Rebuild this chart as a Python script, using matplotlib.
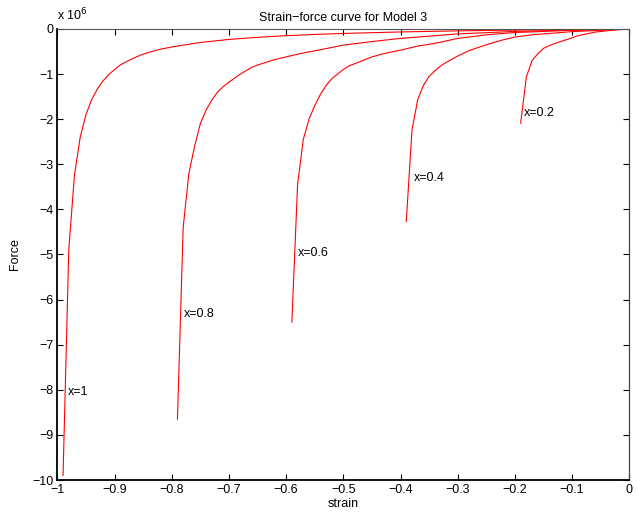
import matplotlib
matplotlib.use("Agg")
import matplotlib.pyplot as plt

# strain / force (force in units of 1e6)
strain_x1 = [0, -0.1, -0.2, -0.3, -0.4, -0.5, -0.55, -0.6, -0.65, -0.7, -0.75, -0.8, -0.82, -0.84,
             -0.85, -0.86, -0.87, -0.88, -0.89, -0.9, -0.91, -0.92, -0.93, -0.94, -0.95, -0.96,
             -0.97, -0.98, -0.99]
force_x1 = [0, -0.011, -0.025, -0.043, -0.067, -0.10, -0.122, -0.15, -0.186, -0.233, -0.30, -0.40,
            -0.45, -0.52, -0.56, -0.61, -0.67, -0.73, -0.80, -0.90, -1.01, -1.15, -1.33, -1.57,
            -1.90, -2.40, -3.23, -4.90, -9.90]

strain_x08 = [0, -0.1, -0.2, -0.3, -0.4, -0.45, -0.5, -0.54, -0.58, -0.62, -0.65, -0.66, -0.68,
              -0.70, -0.71, -0.72, -0.73, -0.74, -0.75, -0.76, -0.77, -0.78, -0.79]
force_x08 = [0, -0.025, -0.055, -0.11, -0.21, -0.28, -0.36, -0.46, -0.56, -0.68, -0.80, -0.85,
             -1.00, -1.18, -1.28, -1.40, -1.58, -1.80, -2.10, -2.60, -3.20, -4.40, -8.65]

strain_x06 = [0, -0.1, -0.2, -0.25, -0.3, -0.34, -0.37, -0.4, -0.43, -0.45, -0.47, -0.49, -0.50,
              -0.51, -0.52, -0.53, -0.54, -0.55, -0.56, -0.57, -0.58, -0.59]
force_x06 = [0, -0.03, -0.08, -0.13, -0.21, -0.32, -0.38, -0.47, -0.55, -0.62, -0.72, -0.82, -0.90,
             -1.00, -1.10, -1.25, -1.45, -1.70, -2.00, -2.45, -3.45, -6.50]

strain_x04 = [0, -0.05, -0.1, -0.17, -0.2, -0.22, -0.25, -0.28, -0.30, -0.32, -0.33, -0.34,
              -0.35, -0.36, -0.37, -0.38, -0.39]
force_x04 = [0, -0.03, -0.06, -0.13, -0.18, -0.24, -0.35, -0.48, -0.60, -0.74, -0.82, -0.93,
             -1.05, -1.25, -1.57, -2.24, -4.27]

strain_x02 = [0, -0.03, -0.06, -0.09, -0.11, -0.12, -0.13, -0.14, -0.15, -0.16, -0.17, -0.18, -0.19]
force_x02 = [0, -0.03, -0.07, -0.15, -0.24, -0.28, -0.32, -0.37, -0.43, -0.55, -0.70, -1.06, -2.09]

labels = ["x=1", "x=0.8", "x=0.6", "x=0.4", "x=0.2"]
label_pos = [(-0.981, -8.05), (-0.778, -6.33), (-0.579, -4.97), (-0.377, -3.30), (-0.184, -1.87)]

plt.rcParams['font.family'] = ['Liberation Sans', 'DejaVu Sans']
plt.rcParams['font.size'] = 9

fig = plt.figure(figsize=(6.37, 5.12), dpi=100)
ax = fig.add_axes([0.09, 0.0625, 0.898, 0.881])

curves = [(strain_x1, force_x1), (strain_x08, force_x08), (strain_x06, force_x06),
          (strain_x04, force_x04), (strain_x02, force_x02)]
for (s, f), lab, (tx, ty) in zip(curves, labels, label_pos):
    ax.plot(s, f, color='red', linewidth=0.8)
    ax.text(tx, ty, lab, ha='left', va='center', fontsize=9)

ax.set_xlim(-1, 0)
ax.set_ylim(-10, 0)
ax.set_xticks([-1, -0.9, -0.8, -0.7, -0.6, -0.5, -0.4, -0.3, -0.2, -0.1, 0])
ax.set_xticklabels(['\u22121', '\u22120.9', '\u22120.8', '\u22120.7', '\u22120.6', '\u22120.5',
                    '\u22120.4', '\u22120.3', '\u22120.2', '\u22120.1', '0'])
ax.set_yticks(range(-10, 1))
ax.set_yticklabels(['\u2212%d' % (-v) if v < 0 else '0' for v in range(-10, 1)])
ax.tick_params(direction='in', length=4, top=True, right=True, width=0.8, pad=3)
ax.spines['left'].set_linewidth(1.3)
ax.spines['bottom'].set_linewidth(1.3)
ax.spines['top'].set_linewidth(0.8)
ax.spines['right'].set_linewidth(0.9)
ax.spines['top'].set_color('#555555')
ax.spines['right'].set_color('#444444')

ax.set_title('Strain\u2212force curve for Model 3', fontsize=9, pad=6)
ax.set_xlabel('strain', labelpad=1)
ax.set_ylabel('Force', labelpad=8)
ax.text(0, 1.012, 'x 10$^{6}$', transform=ax.transAxes, ha='left', va='bottom', fontsize=9)

fig.savefig('out.png', dpi=100)
